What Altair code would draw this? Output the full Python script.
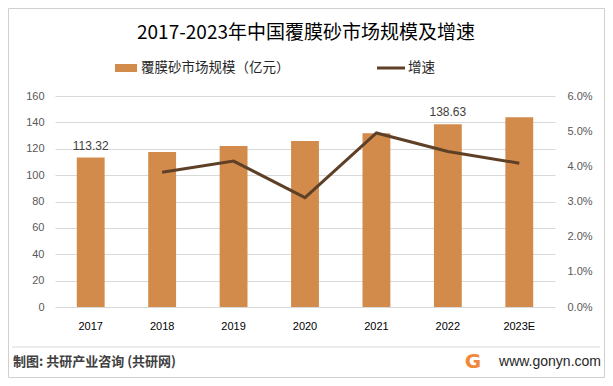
import altair as alt
import pandas as pd

years = ["2017", "2018", "2019", "2020", "2021", "2022", "2023E"]
market_size = [113.32, 117.6, 122.0, 125.8, 131.8, 138.63, 143.9]
growth = [None, 0.0383, 0.0415, 0.0311, 0.0495, 0.0442, 0.0409]
bar_labels = ["113.32", "", "", "", "", "138.63", ""]
left_ticks = [0, 20, 40, 60, 80, 100, 120, 140, 160]
right_ticks = [0, 0.01, 0.02, 0.03, 0.04, 0.05, 0.06]

title_text = "2017-2023年中国覆膜砂市场规模及增速"
legend_bar = "覆膜砂市场规模（亿元）"
legend_line = "增速"
source_text = "制图: 共研产业咨询 (共研网)"
site_text = "www.gonyn.com"

BAR = "#D38B4C"
LINE = "#5E4027"
FONT = "Noto Sans CJK SC"
NUMFONT = "Liberation Sans"

df = pd.DataFrame({"year": years, "size": market_size, "growth": growth, "label": bar_labels})

xenc = alt.X(
    "year:N", sort=years,
    scale=alt.Scale(paddingInner=0.61, paddingOuter=0.305),
    axis=alt.Axis(title=None, labelAngle=0, domain=False, ticks=False, labelPadding=13,
                  labelFontSize=11, labelColor="#000000", labelFont=NUMFONT),
)

base = alt.Chart(df).encode(x=xenc)

left_axis = alt.Axis(title=None, values=left_ticks, tickCount=9, labelOverlap=False, domain=False, ticks=False,
                     labelPadding=11, labelFontSize=11, labelColor="#595959", labelFont=NUMFONT,
                     grid=True, gridColor="#D9D9D9", gridWidth=1)

bars = base.mark_bar(color=BAR).encode(
    y=alt.Y("size:Q", scale=alt.Scale(domain=[0, 160]), axis=left_axis)
)
labels = base.mark_text(dy=-12, fontSize=12, color="#404040", font=NUMFONT).encode(
    y=alt.Y("size:Q", scale=alt.Scale(domain=[0, 160]), axis=left_axis), text="label:N"
)
left = alt.layer(bars, labels)

line = base.transform_filter("isValid(datum.growth)").mark_line(color=LINE, strokeWidth=3).encode(
    y=alt.Y("growth:Q", scale=alt.Scale(domain=[0, 0.06]),
            axis=alt.Axis(title=None, orient="right", format=".1%", values=right_ticks, labelOverlap=False,
                          domain=False, ticks=False, grid=False, labelPadding=12, labelFontSize=11,
                          labelColor="#595959", labelFont=NUMFONT))
)

one = alt.Data(values=[{"k": 1}])


def txt(x, y, t, size, color="#000000", align="left", weight="normal", font=FONT):
    return alt.Chart(one).mark_text(fontSize=size, color=color, align=align, baseline="middle",
                                    fontWeight=weight, font=font).encode(
        x=alt.value(x), y=alt.value(y), text=alt.value(t))


title = txt(251, -63, title_text, 19, "#000000", "center")
leg_sw = alt.Chart(one).mark_rect(color=BAR).encode(
    x=alt.value(60), x2=alt.value(82), y=alt.value(-32), y2=alt.value(-24))
leg_t1 = txt(86, -28, legend_bar, 13.5, "#262626")
leg_ln = alt.Chart(one).mark_rule(color=LINE, strokeWidth=3).encode(
    x=alt.value(322), x2=alt.value(350), y=alt.value(-28))
leg_t2 = txt(353, -28, legend_line, 13.5, "#262626")

sep = alt.Chart(one).mark_rule(color="#D9D9D9", strokeWidth=1).encode(
    x=alt.value(-43), x2=alt.value(545), y=alt.value(251))
src = txt(-42, 266, source_text, 13, "#404040", "left", "bold")
logo = txt(418, 266, "G", 20, "#F0893A", "center", "bold", "DejaVu Sans")
site = txt(546, 266, site_text, 14, "#262626", "right", "normal", "Liberation Sans")
border = alt.Chart(one).mark_rect(fill=None, stroke="#D0D0D0", strokeWidth=1).encode(
    x=alt.value(-46.5), x2=alt.value(549.5), y=alt.value(-87.5), y2=alt.value(281.5))

chart = alt.layer(
    left, line, title, leg_sw, leg_t1, leg_ln, leg_t2, sep, src, logo, site, border
).resolve_scale(y="independent").properties(
    width=500, height=211,
    padding={"left": 47, "top": 88, "right": 50, "bottom": 71},
    autosize=alt.AutoSizeParams(type="none"),
    background="#FFFFFF",
).configure_view(stroke=None)

chart.save("out.html", embed_options={"renderer": "svg", "actions": False})
